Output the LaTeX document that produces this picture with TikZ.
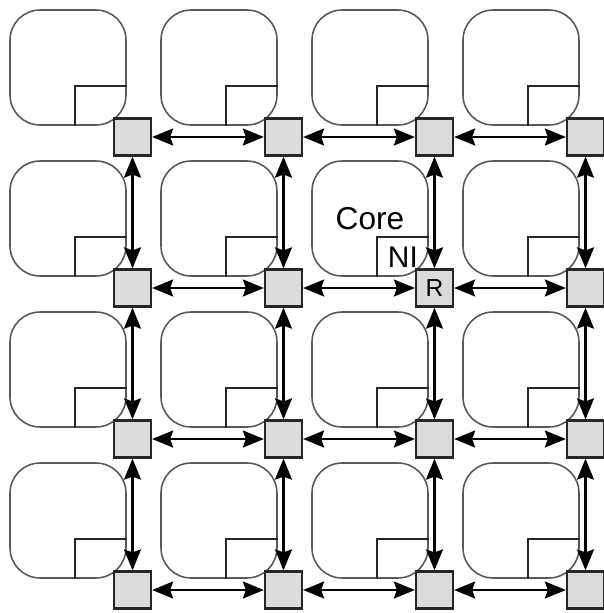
\documentclass[tikz,border=0pt]{standalone}
\usepackage{fontspec}
\setsansfont{Liberation Sans}
\usetikzlibrary{arrows.meta}
\definecolor{routergray}{RGB}{218,219,221}
\begin{document}
\begin{tikzpicture}
  [x=0.02cm,y=-0.02cm,every node/.style={inner sep=0pt,font=\sffamily},
   link/.style={line width=1.2pt,{Stealth[length=0.42cm,width=0.34cm,inset=0.06cm]}-{Stealth[length=0.42cm,width=0.34cm,inset=0.06cm]}}]
  \tikzstyle{core} = [draw=black!65,line width=0.9pt,rounded corners=0.6cm,minimum width=2.32cm,minimum height=2.3cm]
  \tikzstyle{ni} = [minimum width=1.02cm,minimum height=0.78cm,anchor=south east]
  \tikzstyle{router} = [draw=black!85,line width=1.3pt,fill=routergray,minimum size=0.74cm]
  \useasboundingbox (0,0) rectangle (604,613);
  \foreach \i in {0,...,3}
    \foreach \j in {0,...,3} {
      \node[core] (c\i\j) at (68+151*\i,67.5+151*\j) {};
      \node[ni] (n\i\j) at (c\i\j.south east) {};
      \draw[black!85,line width=0.9pt] (n\i\j.south west) |- (n\i\j.north east);
      \node[router] (r\i\j) at (132.5+151*\i,137+151*\j) {};
    }
  \foreach \a/\b in {0/1,1/2,2/3}
    \foreach \j in {0,...,3} {
      \draw[link] (r\a\j) -- (r\b\j);
      \draw[link] (r\j\a) -- (r\j\b);
    }
  \node at (c21) {\fontsize{18}{20}\selectfont Core};
  \node at (n21) {\fontsize{17}{19}\selectfont NI};
  \node at (r21) {\fontsize{14}{16}\selectfont R};
\end{tikzpicture}
\end{document}
